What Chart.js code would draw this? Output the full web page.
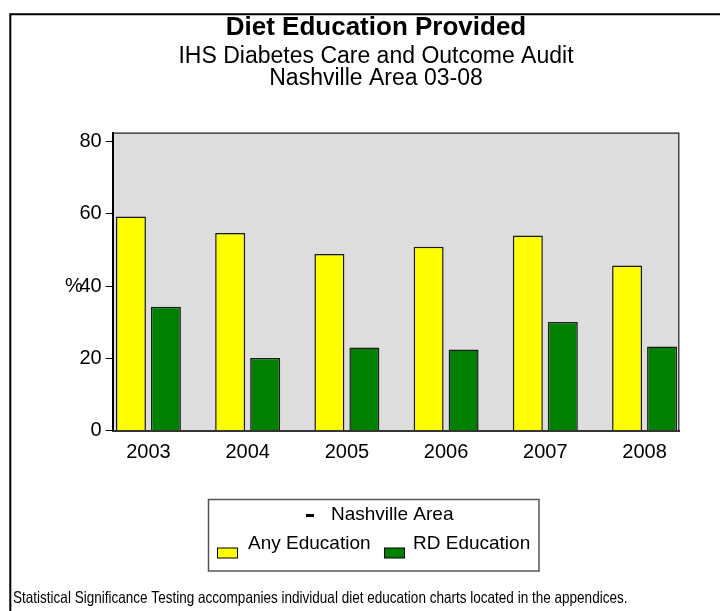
<!DOCTYPE html>
<html>
<head>
<meta charset="utf-8">
<title>Diet Education Provided</title>
<script src="https://cdn.jsdelivr.net/npm/chart.js@4.4.1/dist/chart.umd.min.js"></script>
<style>
  html, body { margin: 0; padding: 0; background: #fff; overflow: hidden; }
  canvas { display: block; }
</style>
</head>
<body>
<canvas id="diet-chart" width="720" height="611"></canvas>
<script>
// Audit results, percent of patients
const years = [2003, 2004, 2005, 2006, 2007, 2008];
const anyEducation = [59.3, 54.7, 48.9, 50.9, 54.0, 45.7];
const rdEducation = [34.3, 20.1, 23.0, 22.5, 30.1, 23.3];
const yTicks = [0, 20, 40, 60, 80];

const seriesLabels = ["Any Education", "RD Education"];
const seriesColors = ["#ffff00", "#008000"];
const areaLabel = "Nashville Area";
const footnote = "Statistical Significance Testing accompanies individual diet education charts located in the appendices.";

const FONT = "'Liberation Sans', Arial, sans-serif";

// page frame, grey plot panel, legend box and footnote
const decor = {
  id: "decor",
  beforeDraw(chart) {
    const {ctx, chartArea: a} = chart;
    ctx.save();
    ctx.fillStyle = "#fff";
    ctx.fillRect(0, 0, chart.width, chart.height);
    ctx.strokeStyle = "#000";
    ctx.lineWidth = 2;
    ctx.beginPath();
    ctx.moveTo(10.3, chart.height + 5);
    ctx.lineTo(10.3, 14.3);
    ctx.lineTo(chart.width + 5, 14.3);
    ctx.stroke();
    ctx.fillStyle = "#dddddd";
    ctx.fillRect(a.left, a.top, a.right - a.left, a.bottom - a.top);
    ctx.restore();
  },
  afterDatasetsDraw(chart) {
    const {ctx, chartArea: a} = chart;
    ctx.save();
    ctx.strokeStyle = "#222";
    ctx.lineWidth = 1.2;
    ctx.beginPath();
    ctx.moveTo(a.left, a.top + 0.5);
    ctx.lineTo(a.right - 0.5, a.top + 0.5);
    ctx.lineTo(a.right - 0.5, a.bottom);
    ctx.stroke();
    ctx.restore();
  },
  afterDraw(chart) {
    const {ctx} = chart;
    const ds = chart.data.datasets;
    ctx.save();

    // y axis unit
    ctx.fillStyle = "#000";
    ctx.font = "20px " + FONT;
    ctx.textAlign = "left";
    ctx.textBaseline = "middle";
    ctx.fillText("%", 65, chart.scales.y.getPixelForValue(40));

    // legend
    ctx.strokeStyle = "#555";
    ctx.lineWidth = 1.5;
    ctx.strokeRect(208.5, 499.5, 330.5, 71.5);
    ctx.fillStyle = "#000";
    ctx.fillRect(306, 514, 8, 3);
    ctx.font = "19px " + FONT;
    ctx.textBaseline = "alphabetic";
    ctx.fillText(areaLabel, 331, 519.5);
    const items = [{x: 217.5, tx: 248}, {x: 384.5, tx: 413}];
    items.forEach((it, i) => {
      ctx.fillStyle = ds[i].backgroundColor;
      ctx.fillRect(it.x, 548, 20, 10);
      ctx.strokeStyle = "#000";
      ctx.lineWidth = 1;
      ctx.strokeRect(it.x, 548, 20, 10);
      ctx.fillStyle = "#000";
      ctx.fillText(ds[i].label, it.tx, 549);
    });

    // footnote, set in a condensed face
    ctx.translate(13, 603);
    ctx.scale(0.82, 1);
    ctx.font = "16.5px " + FONT;
    ctx.fillText(footnote, 0, 0);
    ctx.restore();
  }
};

new Chart(document.getElementById("diet-chart"), {
  type: "bar",
  data: {
    labels: years,
    datasets: [
      {
        label: seriesLabels[0],
        data: anyEducation,
        backgroundColor: seriesColors[0],
        borderColor: "#1a1a1a",
        borderWidth: 1.5,
        categoryPercentage: 0.705,
        barPercentage: 0.857
      },
      {
        label: seriesLabels[1],
        data: rdEducation,
        backgroundColor: seriesColors[1],
        borderColor: "#1a1a1a",
        borderWidth: 1.5,
        categoryPercentage: 0.705,
        barPercentage: 0.857
      }
    ]
  },
  options: {
    responsive: false,
    animation: false,
    events: [],
    layout: {padding: {top: 0, left: 72.7, right: 40.7, bottom: 144.3}},
    plugins: {
      legend: {display: false},
      tooltip: {enabled: false},
      title: {
        display: true,
        text: "Diet Education Provided",
        color: "#000",
        font: {family: FONT, size: 26, weight: "bold", lineHeight: 1.2},
        padding: {top: 12.4, bottom: 0}
      },
      subtitle: {
        display: true,
        text: ["IHS Diabetes Care and Outcome Audit", "Nashville Area 03-08"],
        color: "#000",
        font: {family: FONT, size: 23, lineHeight: 0.975},
        padding: {top: 1.5, bottom: 42.6}
      }
    },
    scales: {
      x: {
        type: "linear",
        offset: false,
        min: 2002.64,
        max: 2008.35,
        afterBuildTicks: s => { s.ticks = years.map(v => ({value: v})); },
        afterFit: s => { s.height = 36; },
        grid: {display: false, drawTicks: false},
        border: {display: true, color: "#333", width: 2},
        ticks: {
          color: "#000",
          font: {family: FONT, size: 20},
          padding: 10,
          maxRotation: 0,
          autoSkip: false,
          callback: v => String(v)
        }
      },
      y: {
        min: 0,
        max: 82.5,
        afterBuildTicks: s => { s.ticks = yTicks.map(v => ({value: v})); },
        afterFit: s => { s.width = 40; },
        grid: {drawOnChartArea: false, drawTicks: true, tickLength: 7, color: "#000", lineWidth: 1},
        border: {color: "#000", width: 2},
        ticks: {color: "#000", font: {family: FONT, size: 20}, padding: 4}
      }
    }
  },
  plugins: [decor]
});
</script>
</body>
</html>
